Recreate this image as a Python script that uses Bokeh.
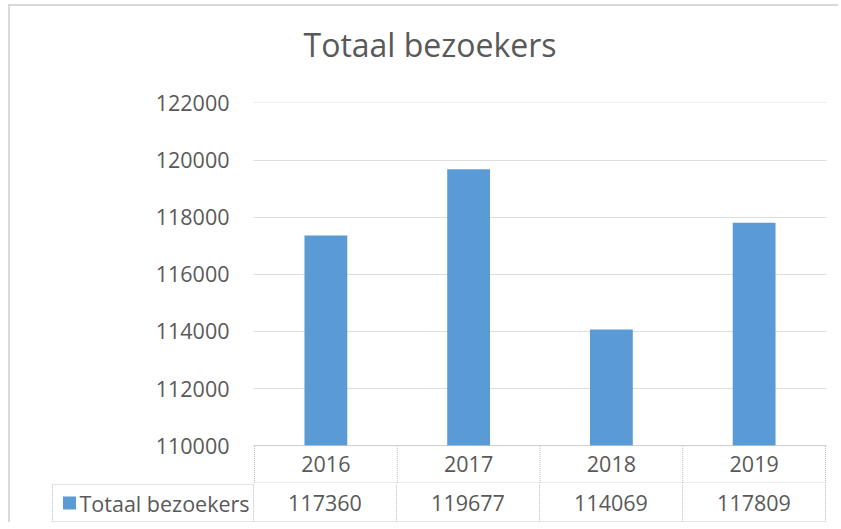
from bokeh.plotting import figure
from bokeh.layouts import column
from bokeh.models import FixedTicker, Range1d, BasicTickFormatter, Title
from bokeh.core.properties import value
from bokeh.embed import file_html
from bokeh.resources import INLINE

# ---- data ----
years = ["2016", "2017", "2018", "2019"]
visitors = [117360, 119677, 114069, 117809]
series_name = "Totaal bezoekers"
title_text = "Totaal bezoekers"
y_ticks = [110000, 112000, 114000, 116000, 118000, 120000, 122000]

# ---- style ----
BAR = "#5B9BD5"
TXT = "#595959"
GRID = "#bdbdbd"
TABLE = "#bdbdbd"
DASH = "1 1"
FONT = "Open Sans"
FS = "21.5px"

n = len(years)
ROW = 1310            # height of the year row of the data table, in axis units
PADY = 17
PX = 143.0            # pixels per category
PADX = 1.0 / PX
L = 201.0 / PX        # width of the legend column, in category units

# ---- chart (with year row of the data table) ----
p = figure(x_range=Range1d(-PADX, n + PADX),
           y_range=Range1d(y_ticks[0] - ROW - PADY, y_ticks[-1] + PADY),
           width=828, height=477, output_backend="svg", toolbar_location=None,
           x_axis_location=None, frame_align=False,
           min_border_left=243, min_border_right=12, min_border_top=96, min_border_bottom=0)

# empty spacer between the title and the plot area
p.add_layout(Title(text=" ", text_font_size="10px", standoff=24), "above")

p.title.text = title_text
p.title.align = "left"
p.title.offset = 50
p.title.text_font = FONT
p.title.text_font_size = "32px"
p.title.text_font_style = "normal"
p.title.text_color = TXT
p.title.standoff = 0
p.outline_line_color = None

p.yaxis.ticker = FixedTicker(ticks=y_ticks)
p.yaxis.formatter = BasicTickFormatter(use_scientific=False)
p.yaxis.axis_line_color = None
p.yaxis.major_tick_line_color = None
p.yaxis.minor_tick_line_color = None
p.yaxis.major_tick_out = 0
p.yaxis.major_tick_in = 0
p.yaxis.major_label_standoff = 24
p.yaxis.major_label_text_font = FONT
p.yaxis.major_label_text_font_size = FS
p.yaxis.major_label_text_color = TXT
p.ygrid.ticker = FixedTicker(ticks=y_ticks)
p.ygrid.grid_line_color = GRID
p.ygrid.grid_line_dash = DASH
p.ygrid.grid_line_width = 1
p.xgrid.visible = False

centers = [i + 0.5 for i in range(n)]
p.vbar(x=centers, top=visitors, bottom=y_ticks[0], width=0.30, color=BAR, line_color=None)

base = y_ticks[0]
hy = [base, base - ROW]
p.segment(x0=[0] * 2, y0=hy, x1=[n] * 2, y1=hy, line_color=TABLE, line_dash=DASH, line_width=1)
vx = list(range(n + 1))
p.segment(x0=vx, y0=[base - ROW] * (n + 1), x1=vx, y1=[base] * (n + 1),
          line_color=TABLE, line_dash=DASH, line_width=1)
p.text(x=centers, y=[base - ROW / 2] * n, text=years, text_align="center",
       text_baseline="middle", text_font=value(FONT), text_font_size=FS, text_color=TXT)

# ---- value row of the data table (legend key + values) ----
t = figure(x_range=Range1d(-L - PADX, n + PADX), y_range=Range1d(-0.02, 1.02),
           width=828, height=39, output_backend="svg", toolbar_location=None,
           x_axis_location=None, y_axis_location=None, frame_align=False,
           min_border_left=41, min_border_right=12, min_border_top=0, min_border_bottom=0)
t.outline_line_color = None
t.xgrid.visible = False
t.ygrid.visible = False

t.segment(x0=[-L, -L], y0=[0, 1], x1=[n, 0], y1=[0, 1],
          line_color=TABLE, line_dash=DASH, line_width=1)
tvx = [-L] + list(range(n + 1))
t.segment(x0=tvx, y0=[0] * len(tvx), x1=tvx, y1=[1] * len(tvx),
          line_color=TABLE, line_dash=DASH, line_width=1)
t.text(x=centers, y=[0.5] * n, text=[str(v) for v in visitors], text_align="center",
       text_baseline="middle", text_font=value(FONT), text_font_size=FS, text_color=TXT)
t.scatter(x=[-L + 17.0 / PX], y=[0.5], marker="square", size=13, color=BAR, line_color=None)
t.text(x=[-L + 27.0 / PX], y=[0.5], text=[series_name], text_align="left",
       text_baseline="middle", text_font=value(FONT), text_font_size=FS, text_color=TXT)

layout = column(p, t, styles={"margin-left": "8px", "margin-top": "4px",
                              "border-left": "2px solid #d9d9d9",
                              "border-top": "2px solid #d9d9d9"})

open("out.html", "w").write(file_html(layout, INLINE))
